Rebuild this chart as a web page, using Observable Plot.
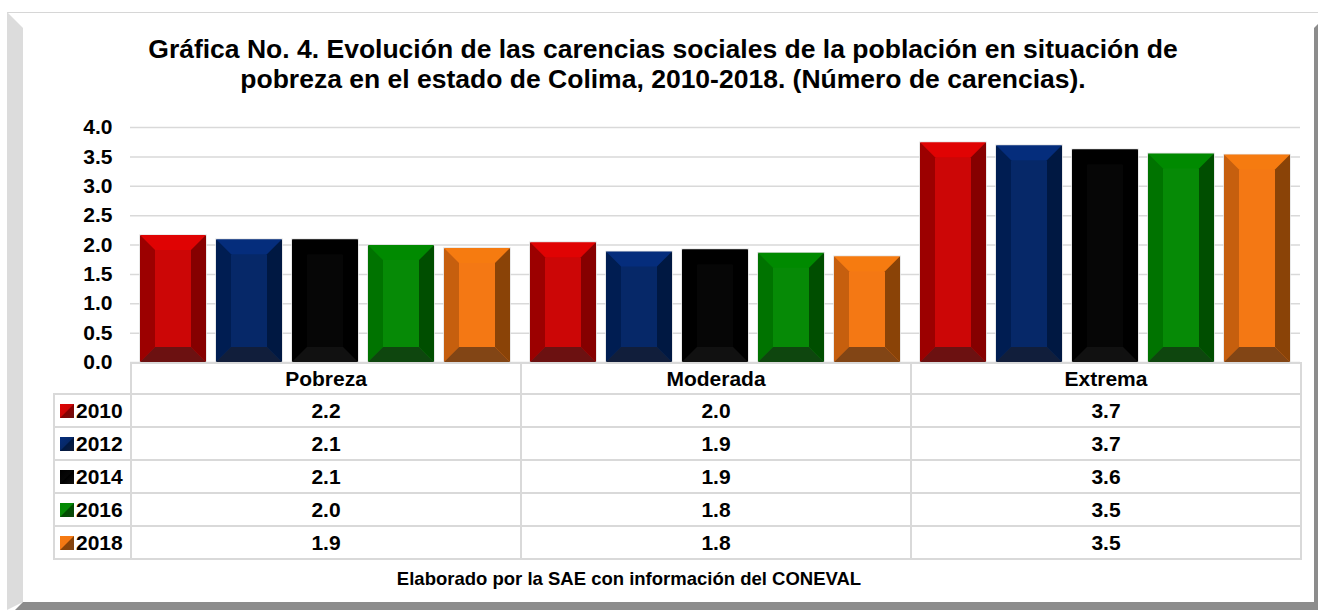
<!DOCTYPE html>
<html>
<head>
<meta charset="utf-8">
<script src="https://cdn.jsdelivr.net/npm/d3@7"></script>
<script src="https://cdn.jsdelivr.net/npm/@observablehq/plot@0.6"></script>
<style>
  html, body { margin: 0; padding: 0; background: #fff; }
  #page { position: relative; width: 1318px; height: 610px; overflow: hidden; background: #fff;
          font-family: "Liberation Sans", Arial, Helvetica, sans-serif; color: #000; }
  .abs { position: absolute; }
  #title { left: 0; width: 1326px; top: 34px; text-align: center; font-weight: bold; font-size: 26.5px; line-height: 30px; }
  #chart { left: 0; top: 100px; }
  #tbl { position: absolute; left: 0; top: 0; }
  .cell { position: absolute; box-sizing: border-box; border: 2px solid #d9d9d9; font-weight: bold; font-size: 21px;
          display: flex; align-items: center; justify-content: center; background: #fff; }
  .cell.lab { justify-content: flex-start; padding-left: 5px; }
  .sw { display: inline-block; width: 14px; height: 14px; margin-right: 2px; }
  #footer { left: 0; width: 1258px; top: 568px; text-align: center; font-weight: bold; font-size: 18.5px; line-height: 22px; }
</style>
</head>
<body>
<div id="page">
  <div class="abs" style="left:7px;top:12px;width:1311px;height:1px;background:#d6d6d6"></div>
  <div class="abs" style="left:7px;top:12px;width:16px;height:598px;background:#dcdcdc;clip-path:polygon(0 0,100% 16px,100% calc(100% - 8px),0 100%)"></div>
  <div class="abs" style="left:1314px;top:24px;width:4px;height:586px;background:#8c8c8c;clip-path:polygon(0 4px,100% 0,100% 100%,0 100%)"></div>
  <div class="abs" style="left:15px;top:602px;width:1303px;height:8px;background:#8c8c8c;clip-path:polygon(8px 0,100% 0,100% 100%,0 100%)"></div>
  <div id="title" class="abs">Gráfica No. 4. Evolución de las carencias sociales de la población en situación de<br>pobreza en el estado de Colima, 2010-2018. (Número de carencias).</div>
  <div id="chart" class="abs"></div>
  <div id="tbl"></div>
  <div id="footer" class="abs"></div>
</div>
<script>
// ---- data ----
const categories = ["Pobreza", "Moderada", "Extrema"];
const years = ["2010", "2012", "2014", "2016", "2018"];
const pobreza = [2.16, 2.09, 2.09, 1.99, 1.94];
const moderada = [2.04, 1.88, 1.92, 1.86, 1.80];
const extrema = [3.74, 3.69, 3.62, 3.55, 3.53];
const pobrezaLabels = ["2.2", "2.1", "2.1", "2.0", "1.9"];
const moderadaLabels = ["2.0", "1.9", "1.9", "1.8", "1.8"];
const extremaLabels = ["3.7", "3.7", "3.6", "3.5", "3.5"];
const yTicks = [0, 0.5, 1, 1.5, 2, 2.5, 3, 3.5, 4];
const footerText = "Elaborado por la SAE con información del CONEVAL";

// ---- styles ----
const faceColors = ["#cc0606", "#062868", "#060606", "#068a06", "#f47814"];
const bevels = {
  "#cc0606": {top: "#e00303", left: "#9c0000", right: "#860000", bottom: "#6c1111"},
  "#062868": {top: "#052d7c", left: "#001d52", right: "#001842", bottom: "#111e3b"},
  "#060606": {top: "#000000", left: "#000000", right: "#000000", bottom: "#111111"},
  "#068a06": {top: "#008a00", left: "#007300", right: "#004e00", bottom: "#0e460e"},
  "#f47814": {top: "#f67b10", left: "#c65f0e", right: "#8a4307", bottom: "#824515"}
};

const series = [pobreza, moderada, extrema];
const labelSeries = [pobrezaLabels, moderadaLabels, extremaLabels];
const data = categories.flatMap((c, i) => years.map((yr, j) => ({cat: c, year: yr, value: series[i][j], color: faceColors[j]})));

const chart = Plot.plot({
  width: 1318,
  height: 263,
  marginTop: 27,
  marginBottom: 1,
  marginLeft: 130,
  marginRight: 18,
  style: {fontFamily: "'Liberation Sans', Arial, sans-serif", fontSize: "21px", fontWeight: "bold", color: "#000", background: "transparent", overflow: "visible"},
  fx: {domain: categories, padding: 0, axis: null, label: null},
  x: {domain: years, padding: 0.13, axis: null, label: null},
  y: {domain: [0, 4], ticks: yTicks, tickFormat: d3.format(".1f"), tickSize: 0, tickPadding: 18, label: null},
  color: {type: "identity"},
  marks: [
    Plot.gridY(yTicks, {stroke: "#d9d9d9", strokeOpacity: 1, strokeWidth: 1.5}),
    Plot.barY(data, {fx: "cat", x: "year", y: "value", fill: "color", stroke: "#e2e2e2", strokeWidth: 1.5})
  ]
});
document.getElementById("chart").appendChild(chart);

// bevel faces derived from each rendered bar
const B = 15;
d3.select(chart).selectAll('g[aria-label="bar"] rect').each(function () {
  const r = d3.select(this);
  const x = +r.attr("x"), y = +r.attr("y"), w = +r.attr("width"), h = +r.attr("height");
  const c = bevels[r.attr("fill")];
  if (!c) return;
  const b = Math.min(B, w / 2, h / 2);
  const parent = d3.select(this.parentNode);
  const tr = r.attr("transform");
  const polys = [
    [[x, y], [x + w, y], [x + w - b, y + b], [x + b, y + b], c.top],
    [[x, y], [x + b, y + b], [x + b, y + h - b], [x, y + h], c.left],
    [[x + w, y], [x + w, y + h], [x + w - b, y + h - b], [x + w - b, y + b], c.right],
    [[x, y + h], [x + b, y + h - b], [x + w - b, y + h - b], [x + w, y + h], c.bottom]
  ];
  for (const p of polys) {
    const fill = p.pop();
    const pg = parent.append("polygon").attr("points", p.map(q => q.join(",")).join(" "))
      .attr("fill", fill).attr("stroke", "none");
    if (tr) pg.attr("transform", tr);
  }
});

// ---- data table below the chart ----
const tbl = document.getElementById("tbl");
const colX = [130, 520, 910, 1300];
const labX = 53;
const headTop = 362, headH = 31, rowH = 33;
function cell(left, top, w, h, html, cls) {
  const d = document.createElement("div");
  d.className = "cell" + (cls ? " " + cls : "");
  d.style.left = left + "px"; d.style.top = top + "px";
  d.style.width = (w + 2) + "px"; d.style.height = (h + 2) + "px";
  d.innerHTML = html;
  tbl.appendChild(d);
}
categories.forEach((c, i) => cell(colX[i], headTop, colX[i + 1] - colX[i], headH, c));
years.forEach((yr, j) => {
  const top = headTop + headH + j * rowH;
  const fc = faceColors[j], bc = bevels[fc];
  const sw = `<span class="sw" style="background:linear-gradient(135deg, ${bc.top} 0%, ${fc} 48%, ${bc.right} 52%, ${bc.bottom} 100%)"></span>`;
  cell(labX, top, colX[0] - labX, rowH, sw + yr, "lab");
  categories.forEach((c, i) => cell(colX[i], top, colX[i + 1] - colX[i], rowH, labelSeries[i][j]));
});
document.getElementById("footer").textContent = footerText;
</script>
</body>
</html>
